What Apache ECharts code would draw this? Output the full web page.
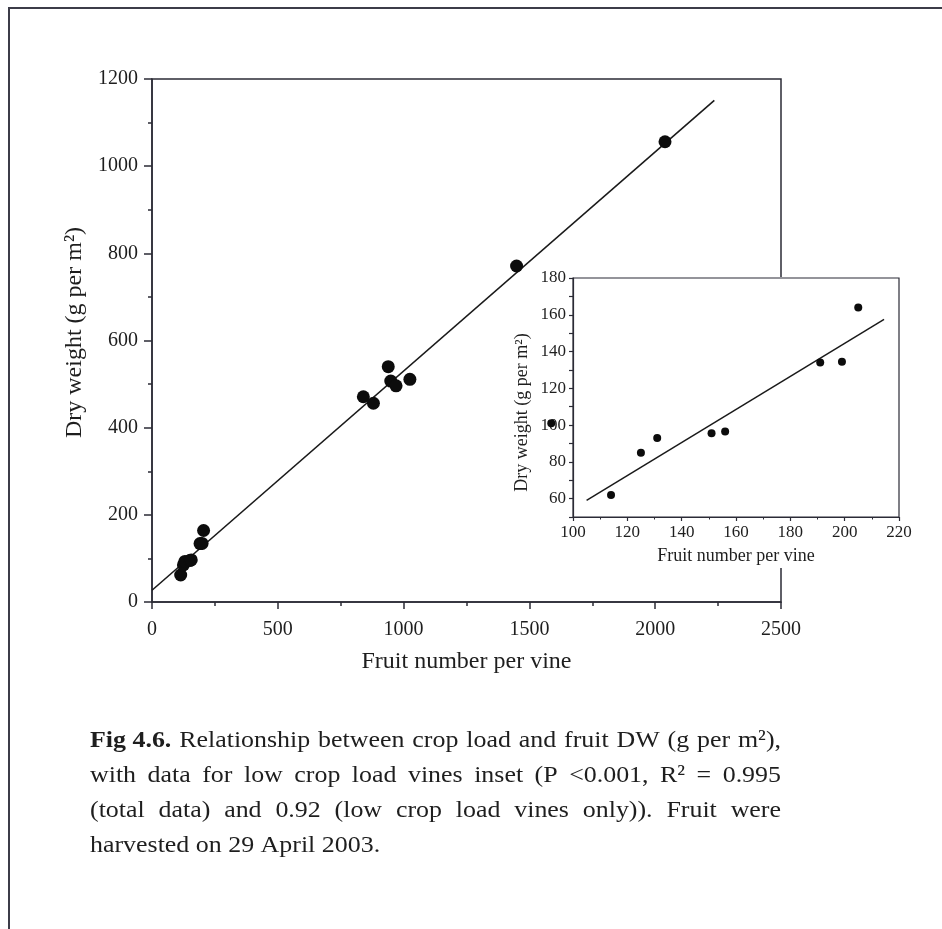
<!DOCTYPE html>
<html>
<head>
<meta charset="utf-8">
<script src="https://cdn.jsdelivr.net/npm/echarts@6/dist/echarts.min.js"></script>
<style>
html,body{margin:0;padding:0;background:#fff;}
#chart{width:942px;height:929px;}
</style>
</head>
<body>
<div id="chart"></div>
<script>
// ---- data ----
const mainX = [114, 125, 131, 151, 156, 191, 199, 205, 840, 880, 939, 949, 970, 1025, 1449, 2039];
const mainY = [62, 85, 93, 95.5, 96.5, 134, 134.5, 164, 471, 456, 540, 507, 496, 511, 771, 1056];
const mainFitX = [0, 2235];
const mainFitY = [27, 1151];
const insetX = [92, 114, 125, 131, 151, 156, 191, 199, 205];
const insetY = [101, 62, 85, 93, 95.5, 96.5, 134, 134.5, 164];
const insetFitX = [105, 214.5];
const insetFitY = [59, 157.5];
const xName = 'Fruit number per vine';
const yName = 'Dry weight (g per m²)';
const captionLines = [
  {words: [{t: 'Fig 4.6.', b: true}, 'Relationship', 'between', 'crop', 'load', 'and', 'fruit', 'DW', '(g', 'per', 'm²),'], justify: true},
  {words: ['with', 'data', 'for', 'low', 'crop', 'load', 'vines', 'inset', '(P', '<0.001,', 'R²', '=', '0.995'], justify: true},
  {words: ['(total', 'data)', 'and', '0.92', '(low', 'crop', 'load', 'vines', 'only)).', 'Fruit', 'were'], justify: true},
  {words: ['harvested', 'on', '29', 'April', '2003.'], justify: false}
];

const FF = '"Liberation Serif", "Times New Roman", serif';
const AX = '#2b2b36';
const TX = '#1e1e1e';

const zip = (a, b) => a.map((v, i) => [v, b[i]]);
const plain = v => String(v);

// ---- caption layout ----
const capFS = 24, capSX = 1.08, capLeft = 90, capRight = 781;
const capY = [741, 776, 811, 846];
const mctx = document.createElement('canvas').getContext('2d');
function fontStr(b) { return (b ? 'bold ' : '') + capFS + 'px ' + FF; }
function mw(t, b) { mctx.font = fontStr(b); return mctx.measureText(t).width * capSX; }
const graphics = [];
graphics.push({type: 'rect', shape: {x: 9, y: 8, width: 1000, height: 1000},
  style: {fill: 'none', stroke: '#3c3c48', lineWidth: 2}, silent: true});
captionLines.forEach((ln, li) => {
  const ws = ln.words.map(w => typeof w === 'string' ? {t: w, b: false} : w);
  const widths = ws.map(w => mw(w.t, w.b));
  const total = widths.reduce((a, b) => a + b, 0);
  const gap = ln.justify ? (capRight - capLeft - total) / (ws.length - 1) : mw(' ', false);
  let x = capLeft;
  ws.forEach((w, i) => {
    graphics.push({type: 'text', x: x, y: capY[li], scaleX: capSX, silent: true,
      style: {text: w.t, font: fontStr(w.b), fill: TX, align: 'left', verticalAlign: 'middle'}});
    x += widths[i] + gap;
  });
});
// white panel under the inset
graphics.push({type: 'rect', z: 5, shape: {x: 532, y: 277, width: 380, height: 291},
  style: {fill: '#ffffff', stroke: 'none'}, silent: true});

const axisCommon = (fs) => ({
  axisLine: {show: true, lineStyle: {color: AX, width: 1.5}},
  splitLine: {show: false},
  axisLabel: {fontFamily: FF, fontSize: fs, color: TX, formatter: plain},
  nameLocation: 'middle'
});

const chart = echarts.init(document.getElementById('chart'), null, {renderer: 'canvas'});
chart.setOption({
  backgroundColor: '#ffffff',
  animation: false,
  grid: [
    {left: 152, top: 79, width: 629, height: 523, show: true, borderColor: AX, borderWidth: 1.5, z: 1},
    {left: 573, top: 278, width: 326, height: 239, show: true, borderColor: AX, borderWidth: 1.2, z: 6, backgroundColor: 'rgba(0,0,0,0)'}
  ],
  xAxis: [
    Object.assign(axisCommon(20), {
      gridIndex: 0, type: 'value', min: 0, max: 2500, interval: 500,
      axisTick: {show: true, length: 7, lineStyle: {color: AX, width: 1.5}},
      minorTick: {show: true, splitNumber: 2, length: 4, lineStyle: {color: AX, width: 1.5}},
      axisLabel: {fontFamily: FF, fontSize: 20, color: TX, formatter: plain, margin: 18},
      name: xName, nameGap: 48, nameTextStyle: {fontFamily: FF, fontSize: 24, color: TX},
      z: 1
    }),
    Object.assign(axisCommon(17), {
      gridIndex: 1, type: 'value', min: 100, max: 220, interval: 20,
      axisLine: {show: true, lineStyle: {color: AX, width: 1.2}},
      axisTick: {show: true, length: 4, lineStyle: {color: AX, width: 1.2}},
      minorTick: {show: true, splitNumber: 2, length: 2.5, lineStyle: {color: AX, width: 1}},
      axisLabel: {fontFamily: FF, fontSize: 17, color: TX, formatter: plain, margin: 7},
      name: xName, nameGap: 30, nameTextStyle: {fontFamily: FF, fontSize: 18, color: TX},
      z: 6
    })
  ],
  yAxis: [
    Object.assign(axisCommon(20), {
      gridIndex: 0, type: 'value', min: 0, max: 1200, interval: 200,
      axisTick: {show: true, length: 8, lineStyle: {color: AX, width: 1.5}},
      minorTick: {show: true, splitNumber: 2, length: 4, lineStyle: {color: AX, width: 1.5}},
      axisLabel: {fontFamily: FF, fontSize: 20, color: TX, formatter: plain, margin: 14},
      name: yName, nameGap: 62, nameTextStyle: {fontFamily: FF, fontSize: 24, color: TX, padding: [0, 0, 0, 16]},
      z: 1
    }),
    Object.assign(axisCommon(17), {
      gridIndex: 1, type: 'value', min: 50, max: 180, interval: 10,
      axisLine: {show: true, lineStyle: {color: AX, width: 1.2}},
      axisTick: {show: true, length: 4, lineStyle: {color: AX, width: 1.2}},
      axisLabel: {fontFamily: FF, fontSize: 17, color: TX, margin: 7,
        formatter: v => (v % 20 === 0 ? String(v) : '')},
      name: yName, nameGap: 42, nameTextStyle: {fontFamily: FF, fontSize: 18, color: TX, padding: [0, 30, 0, 0]},
      z: 6
    })
  ],
  series: [
    {type: 'line', xAxisIndex: 0, yAxisIndex: 0, data: zip(mainFitX, mainFitY), showSymbol: false,
      lineStyle: {color: '#1a1a1a', width: 1.6}, z: 2, silent: true},
    {type: 'scatter', xAxisIndex: 0, yAxisIndex: 0, data: zip(mainX, mainY), symbolSize: 13,
      itemStyle: {color: '#0c0c0c', opacity: 1}, z: 3},
    {type: 'line', xAxisIndex: 1, yAxisIndex: 1, data: zip(insetFitX, insetFitY), showSymbol: false,
      lineStyle: {color: '#1a1a1a', width: 1.5}, z: 7, silent: true},
    {type: 'scatter', xAxisIndex: 1, yAxisIndex: 1, data: zip(insetX, insetY), symbolSize: 8, clip: false,
      itemStyle: {color: '#0c0c0c', opacity: 1}, z: 8}
  ],
  graphic: graphics
});
</script>
</body>
</html>
